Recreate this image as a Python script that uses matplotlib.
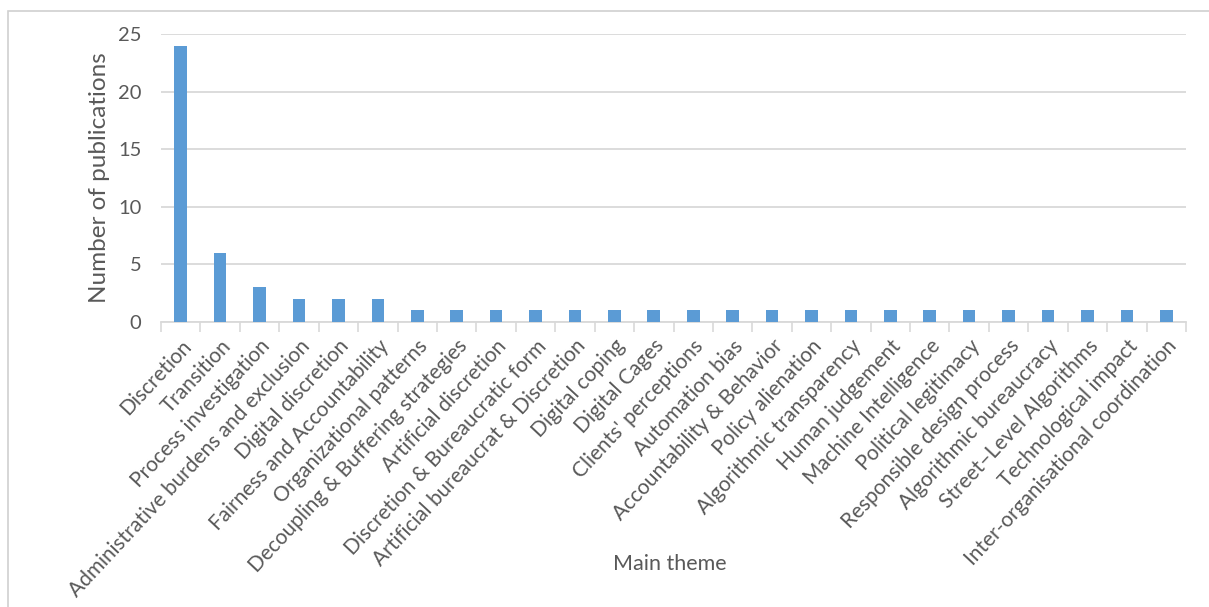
import matplotlib
matplotlib.use("Agg")
import matplotlib.pyplot as plt
from matplotlib.patches import Rectangle

themes = [
    "Discretion", "Transition", "Process investigation",
    "Administrative burdens and exclusion", "Digital discretion",
    "Fairness and Accountability", "Organizational patterns",
    "Decoupling & Buffering strategies", "Artificial discretion",
    "Discretion & Bureaucratic form", "Artificial bureaucrat & Discretion",
    "Digital coping", "Digital Cages", "Clients' perceptions",
    "Automation bias", "Accountability & Behavior", "Policy alienation",
    "Algorithmic transparency", "Human judgement", "Machine Intelligence",
    "Political legitimacy", "Responsible design process",
    "Algorithmic bureaucracy", "Street\u2013Level Algorithms",
    "Technological impact", "Inter-organisational coordination",
]
publications = [24, 6, 3, 2, 2, 2, 1, 1, 1, 1, 1, 1, 1, 1, 1, 1, 1, 1, 1, 1,
                1, 1, 1, 1, 1, 1]
y_ticks = [0, 5, 10, 15, 20, 25]

plt.rcParams["font.family"] = ["Lato", "DejaVu Sans"]
text_color = "#595959"
grid_color = "#D9D9D9"
bar_color = "#5B9BD5"

fig = plt.figure(figsize=(12.09, 6.07), dpi=100)
fig.patches.append(Rectangle((8 / 1209, -0.05), 1.2, 1 - 11 / 607 + 0.05,
                             transform=fig.transFigure, fill=False,
                             edgecolor="#D0D0D0", linewidth=1.2))

ax = fig.add_axes([161 / 1209, 1 - 322 / 607, (1186 - 161) / 1209,
                   (322 - 34) / 607])
n = len(themes)
x = list(range(n))
ax.bar(x, publications, width=0.32, color=bar_color, zorder=3)
ax.set_xlim(-0.5, n - 0.5)
ax.set_ylim(0, 25)
ax.set_yticks(y_ticks)
ax.yaxis.grid(True, color=grid_color, linewidth=1.3, zorder=0)
for side in ("top", "right", "left"):
    ax.spines[side].set_visible(False)
ax.spines["bottom"].set_color(grid_color)
ax.spines["bottom"].set_linewidth(1.3)

ax.set_xticks([i - 0.5 for i in range(n + 1)], minor=True)
ax.set_xticks(x)
ax.set_xticklabels(themes, rotation=47, ha="right", rotation_mode="anchor",
                   fontsize=15, color=text_color)
ax.tick_params(axis="x", which="major", length=0, pad=10)
ax.tick_params(axis="x", which="minor", length=7, color=grid_color, width=1.2)
ax.tick_params(axis="y", length=0, labelsize=14.5, labelcolor=text_color,
               pad=14)

ax.set_ylabel("Number of publications", fontsize=17.5, color=text_color,
              labelpad=6)
fig.text(670 / 1209, 1 - 564 / 607, "Main theme", fontsize=15.5,
         color=text_color, ha="center", va="center")

fig.savefig("out.png", dpi=100, facecolor="white")
